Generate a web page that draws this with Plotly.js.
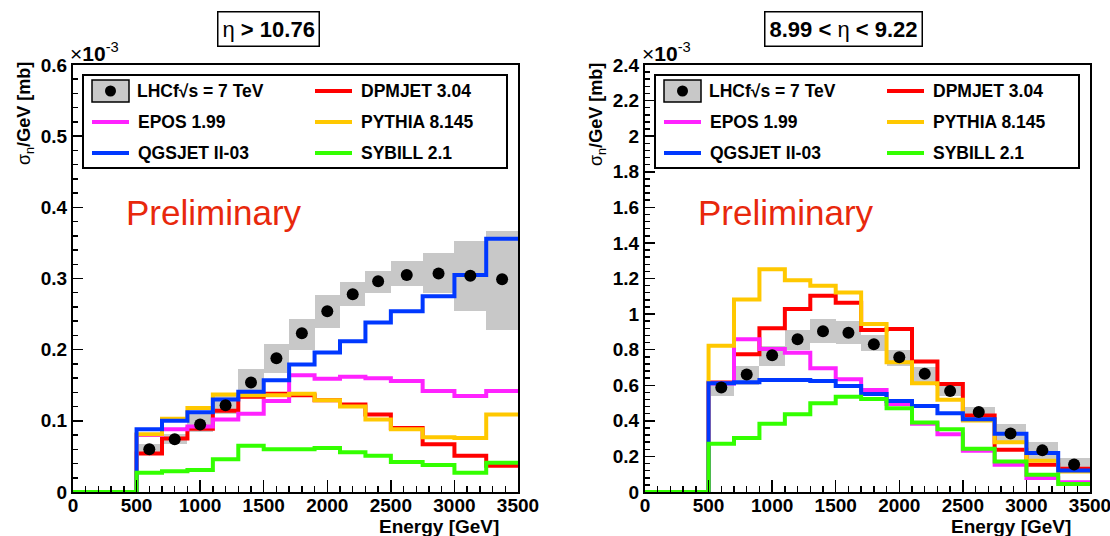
<!DOCTYPE html>
<html>
<head>
<meta charset="utf-8">
<script src="https://cdn.plot.ly/plotly-3.0.1.min.js"></script>
<style>html,body{margin:0;padding:0;background:#fff;}#chart{width:1110px;height:536px;}</style>
</head>
<body>
<div id="chart"></div>
<script>
// ---- data (cross-section values in units of 1e-3 mb/GeV) ----
const binEdges = [0, 500, 700, 900, 1100, 1300, 1500, 1700, 1900, 2100, 2300, 2500, 2750, 3000, 3250, 3500];
const binCenters = [600, 800, 1000, 1200, 1400, 1600, 1800, 2000, 2200, 2400, 2625, 2875, 3125, 3375];

// eta > 10.76
const lhcfLeft   = [0.060, 0.074, 0.095, 0.122, 0.154, 0.188, 0.223, 0.254, 0.278, 0.296, 0.305, 0.307, 0.304, 0.299];
const errLoLeft  = [0.052, 0.067, 0.085, 0.110, 0.138, 0.167, 0.200, 0.231, 0.261, 0.280, 0.289, 0.280, 0.255, 0.228];
const errHiLeft  = [0.068, 0.082, 0.110, 0.136, 0.173, 0.208, 0.243, 0.277, 0.295, 0.311, 0.324, 0.336, 0.353, 0.367];
const dpmjetLeft = [0.054, 0.075, 0.089, 0.114, 0.134, 0.138, 0.136, 0.129, 0.123, 0.109, 0.090, 0.067, 0.051, 0.037];
const eposLeft   = [0.080, 0.088, 0.092, 0.102, 0.110, 0.128, 0.164, 0.159, 0.162, 0.160, 0.156, 0.142, 0.135, 0.142];
const pythiaLeft = [0.081, 0.103, 0.118, 0.137, 0.136, 0.136, 0.138, 0.129, 0.120, 0.102, 0.088, 0.077, 0.076, 0.109];
const qgsjetLeft = [0.088, 0.100, 0.112, 0.130, 0.141, 0.157, 0.179, 0.196, 0.212, 0.238, 0.254, 0.275, 0.305, 0.356];
const sybillLeft = [0.027, 0.029, 0.031, 0.046, 0.065, 0.060, 0.060, 0.062, 0.056, 0.051, 0.042, 0.038, 0.027, 0.041];

// 8.99 < eta < 9.22
const lhcfRight   = [0.587, 0.660, 0.768, 0.858, 0.903, 0.895, 0.830, 0.757, 0.665, 0.568, 0.450, 0.329, 0.234, 0.155];
const errLoRight  = [0.54, 0.60, 0.71, 0.80, 0.84, 0.83, 0.79, 0.71, 0.62, 0.54, 0.41, 0.27, 0.18, 0.12];
const errHiRight  = [0.62, 0.71, 0.82, 0.91, 0.97, 0.96, 0.88, 0.80, 0.70, 0.60, 0.48, 0.38, 0.28, 0.19];
const dpmjetRight = [0.615, 0.774, 0.920, 1.028, 1.103, 1.064, 0.910, 0.916, 0.733, 0.607, 0.430, 0.237, 0.153, 0.130];
const eposRight   = [0.610, 0.858, 0.804, 0.783, 0.695, 0.634, 0.574, 0.495, 0.383, 0.325, 0.232, 0.153, 0.079, 0.055];
const pythiaRight = [0.822, 1.082, 1.252, 1.190, 1.159, 1.121, 0.944, 0.729, 0.611, 0.518, 0.402, 0.280, 0.176, 0.115];
const qgsjetRight = [0.611, 0.617, 0.630, 0.630, 0.624, 0.596, 0.551, 0.512, 0.484, 0.443, 0.409, 0.327, 0.219, 0.121];
const sybillRight = [0.271, 0.303, 0.383, 0.437, 0.499, 0.536, 0.523, 0.471, 0.391, 0.353, 0.243, 0.172, 0.097, 0.045];

const modelNames = ['DPMJET 3.04', 'EPOS 1.99', 'PYTHIA 8.145', 'QGSJET II-03', 'SYBILL 2.1'];
const dataLabel = 'LHCf\u221As = 7 TeV';
const panelTitles = ['\u03B7<b> &gt; 10.76</b>', '<b>8.99 &lt; </b>\u03B7<b> &lt; 9.22</b>'];

// ---- styling ----
const COLORS = {dpm: '#ff0000', epos: '#ff22ff', pyth: '#ffc800', qgs: '#0038ff', syb: '#33ff00'};
const FONT = 'Liberation Sans, Arial, Helvetica, sans-serif';
const W = 1110, H = 536;
const px = x => x / W;
const py = y => 1 - y / H;

function stepTrace(vals, color, xa, ya) {
  const y = [0].concat(vals, [vals[vals.length - 1]]);
  return {type: 'scatter', mode: 'lines', x: binEdges, y: y, xaxis: xa, yaxis: ya,
          line: {color: color, width: 4, shape: 'hv'}, hoverinfo: 'skip', showlegend: false, cliponaxis: true};
}
function errBoxes(lo, hi, xa, ya) {
  const widths = binCenters.map((c, i) => binEdges[i + 2] - binEdges[i + 1]);
  return {type: 'bar', x: binCenters, base: lo, y: hi.map((h, i) => h - lo[i]), width: widths,
          marker: {color: '#c8c8c8', line: {width: 0}}, xaxis: xa, yaxis: ya, showlegend: false, hoverinfo: 'skip'};
}
function points(vals, xa, ya) {
  return {type: 'scatter', mode: 'markers', x: binCenters, y: vals, xaxis: xa, yaxis: ya,
          marker: {color: '#000', size: 12}, showlegend: false, hoverinfo: 'skip', cliponaxis: false};
}

const traces = [
  errBoxes(errLoLeft, errHiLeft, 'x', 'y'),
  stepTrace(dpmjetLeft, COLORS.dpm, 'x', 'y'),
  stepTrace(eposLeft, COLORS.epos, 'x', 'y'),
  stepTrace(pythiaLeft, COLORS.pyth, 'x', 'y'),
  stepTrace(qgsjetLeft, COLORS.qgs, 'x', 'y'),
  stepTrace(sybillLeft, COLORS.syb, 'x', 'y'),
  points(lhcfLeft, 'x', 'y'),
  errBoxes(errLoRight, errHiRight, 'x2', 'y2'),
  stepTrace(dpmjetRight, COLORS.dpm, 'x2', 'y2'),
  stepTrace(eposRight, COLORS.epos, 'x2', 'y2'),
  stepTrace(pythiaRight, COLORS.pyth, 'x2', 'y2'),
  stepTrace(qgsjetRight, COLORS.qgs, 'x2', 'y2'),
  stepTrace(sybillRight, COLORS.syb, 'x2', 'y2'),
  points(lhcfRight, 'x2', 'y2')
];

const tickFont = {family: FONT, size: 19, weight: 700, color: '#000'};
function xAxis(domain, anchor) {
  return {domain: domain, anchor: anchor, range: [0, 3500], dtick: 500, tick0: 0,
          showline: true, linewidth: 2, linecolor: '#000', mirror: true, showgrid: false, zeroline: false,
          ticks: 'inside', ticklen: 12, tickwidth: 1.5, tickcolor: '#000', tickfont: tickFont,
          ticklabelstandoff: -5, ticklabeloverflow: 'allow',
          minor: {ticks: 'inside', dtick: 100, ticklen: 6, tickwidth: 1.5, tickcolor: '#000', showgrid: false}};
}
function yAxis(domain, anchor, max, dt, mdt) {
  return {domain: domain, anchor: anchor, range: [0, max], dtick: dt, tick0: 0,
          showline: true, linewidth: 2, linecolor: '#000', mirror: true, showgrid: false, zeroline: false,
          ticks: 'inside', ticklen: 10, tickwidth: 1.5, tickcolor: '#000', tickfont: tickFont,
          ticklabeloverflow: 'allow',
          minor: {ticks: 'inside', dtick: mdt, ticklen: 5, tickwidth: 1.5, tickcolor: '#000', showgrid: false}};
}

const yDom = [py(492), py(65)];
const panels = [{x0: 73, x1: 518}, {x0: 645, x1: 1090}];

const shapes = [];
const annotations = [];
panels.forEach((p, k) => {
  const o = p.x0 - 73; // offset of right panel
  // legend box
  shapes.push({type: 'rect', xref: 'paper', yref: 'paper', x0: px(83 + o), x1: px(507 + o), y0: py(168), y1: py(75),
               line: {color: '#000', width: 2}, fillcolor: '#fff', layer: 'above'});
  // data marker symbol
  shapes.push({type: 'rect', xref: 'paper', yref: 'paper', x0: px(92 + o), x1: px(129 + o), y0: py(102), y1: py(80),
               line: {color: '#000', width: 1.5}, fillcolor: '#c8c8c8', layer: 'above'});
  shapes.push({type: 'circle', xref: 'paper', yref: 'paper', x0: px(105 + o), x1: px(116 + o), y0: py(96.5), y1: py(85.5),
               line: {color: '#000', width: 0}, fillcolor: '#000', layer: 'above'});
  const entries = [
    {col: 0, row: 1, color: COLORS.epos, name: modelNames[1]},
    {col: 0, row: 2, color: COLORS.qgs, name: modelNames[3]},
    {col: 1, row: 0, color: COLORS.dpm, name: modelNames[0]},
    {col: 1, row: 1, color: COLORS.pyth, name: modelNames[2]},
    {col: 1, row: 2, color: COLORS.syb, name: modelNames[4]}
  ];
  const rowY = [91, 122, 153];
  entries.forEach(e => {
    const lx0 = (e.col === 0 ? 92 : 315) + o;
    shapes.push({type: 'line', xref: 'paper', yref: 'paper', x0: px(lx0), x1: px(lx0 + 37), y0: py(rowY[e.row]), y1: py(rowY[e.row]),
                 line: {color: e.color, width: 4}, layer: 'above'});
    annotations.push({xref: 'paper', yref: 'paper', x: px(lx0 + 44), y: py(rowY[e.row]), xanchor: 'left', yanchor: 'middle',
                      text: '<b>' + e.name + '</b>', showarrow: false, font: {family: FONT, size: 17.5, color: '#000'}});
  });
  annotations.push({xref: 'paper', yref: 'paper', x: px(135 + o), y: py(91), xanchor: 'left', yanchor: 'middle',
                    text: '<b>' + dataLabel + '</b>', showarrow: false, font: {family: FONT, size: 17.5, color: '#000'}});
  // x10^-3
  annotations.push({xref: 'paper', yref: 'paper', x: px(68 + o), y: py(67), xanchor: 'left', yanchor: 'bottom',
                    text: '\u00D7<b>10</b><sup>-3</sup>', showarrow: false, font: {family: FONT, size: 21, color: '#000'}});
  // y title
  annotations.push({xref: 'paper', yref: 'paper', x: px(25 + o), y: py(114), xanchor: 'center', yanchor: 'middle', textangle: -90,
                    text: '\u03C3<sub>n</sub><b>/GeV [mb]</b>', showarrow: false, font: {family: FONT, size: 18, color: '#000'}});
  // x title
  annotations.push({xref: 'paper', yref: 'paper', x: px(501 + o), y: py(526), xanchor: 'right', yanchor: 'middle',
                    text: '<b>Energy [GeV]</b>', showarrow: false, font: {family: FONT, size: 19, color: '#000'}});
  // Preliminary
  annotations.push({xref: 'paper', yref: 'paper', x: px(124 + o), y: py(213), xanchor: 'left', yanchor: 'middle',
                    text: 'Preliminary', showarrow: false, font: {family: FONT, size: 35, color: '#e8280c'}});
});
// panel titles
annotations.push({xref: 'paper', yref: 'paper', x: px(268), y: py(28.5), xanchor: 'center', yanchor: 'middle',
                  text: panelTitles[0], showarrow: false, font: {family: FONT, size: 22, color: '#000'},
                  bordercolor: '#000', borderwidth: 1.5, borderpad: 4, bgcolor: '#fff'});
annotations.push({xref: 'paper', yref: 'paper', x: px(843.5), y: py(28.5), xanchor: 'center', yanchor: 'middle',
                  text: panelTitles[1], showarrow: false, font: {family: FONT, size: 22, color: '#000'},
                  bordercolor: '#000', borderwidth: 1.5, borderpad: 4, bgcolor: '#fff'});

const layout = {
  width: W, height: H, margin: {l: 0, r: 0, t: 0, b: 0},
  paper_bgcolor: '#fff', plot_bgcolor: '#fff', showlegend: false, barmode: 'overlay', bargap: 0,
  font: {family: FONT, color: '#000'},
  xaxis: xAxis([px(73), px(518)], 'y'),
  yaxis: yAxis(yDom, 'x', 0.6, 0.1, 0.02),
  xaxis2: xAxis([px(645), px(1090)], 'y2'),
  yaxis2: yAxis(yDom, 'x2', 2.4, 0.2, 0.04),
  shapes: shapes, annotations: annotations
};

Plotly.newPlot('chart', traces, layout, {displayModeBar: false, staticPlot: true});
</script>
</body>
</html>
